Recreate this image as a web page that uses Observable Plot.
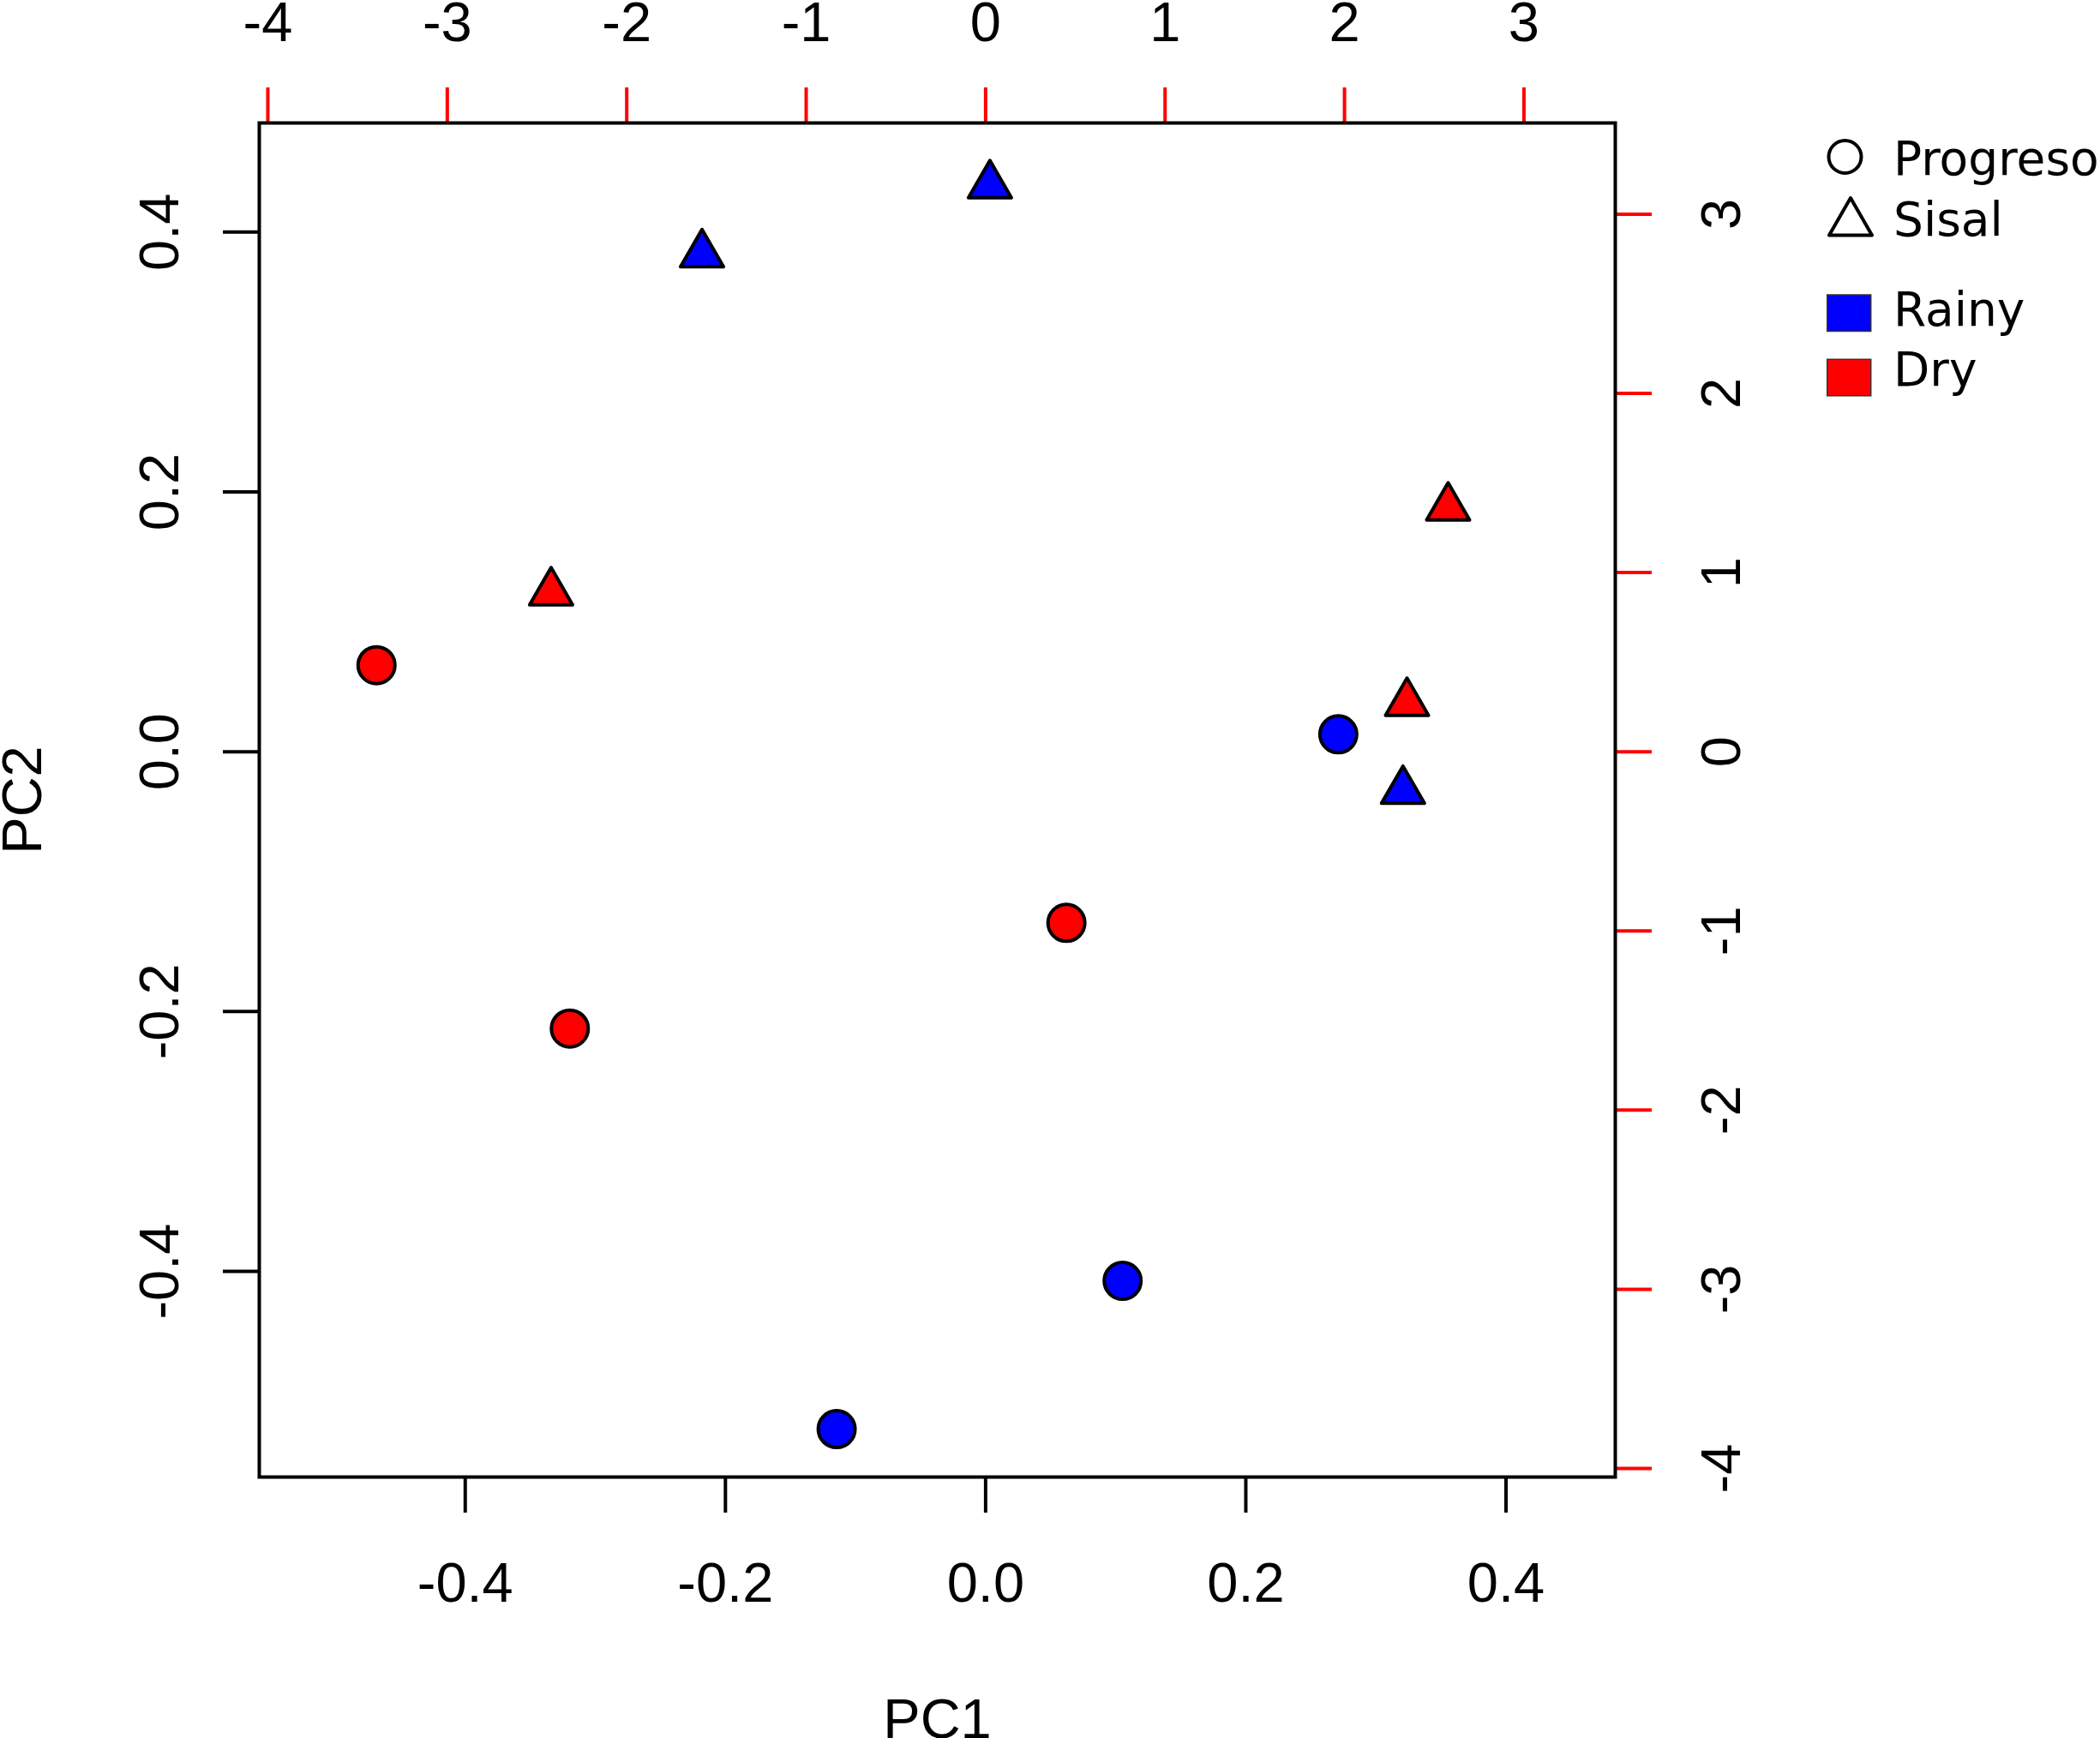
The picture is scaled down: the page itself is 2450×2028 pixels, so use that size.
<!DOCTYPE html>
<html><head><meta charset="utf-8">
<script src="https://cdn.jsdelivr.net/npm/d3@7"></script>
<script src="https://cdn.jsdelivr.net/npm/@observablehq/plot@0.6"></script>
<style>
html,body{margin:0;padding:0;background:#fff;}
#wrap{position:relative;width:2450px;height:2028px;overflow:hidden;background:#fff;}
#legend{position:absolute;left:2120px;top:140px;overflow:hidden;}
</style></head><body><div id="wrap"></div>
<script>
// ---- data ----
const sampleSite   = ["Sisal","Sisal","Sisal","Sisal","Progreso","Sisal","Progreso","Sisal","Progreso","Progreso","Progreso","Progreso"];
const sampleSeason = ["Rainy","Rainy","Dry","Dry","Dry","Dry","Rainy","Rainy","Dry","Dry","Rainy","Rainy"];
const pc1 = [0.0033, -0.2180, 0.3555, -0.3340, -0.4682, 0.3239, 0.2711, 0.3208, 0.0621, -0.3196, 0.1053, -0.1145];
const pc2 = [0.4360, 0.3829, 0.1880, 0.1227, 0.0666, 0.0376, 0.0134, -0.0301, -0.1317, -0.2131, -0.4073, -0.5214];
const pcTicks = [-0.4, -0.2, 0, 0.2, 0.4];
const loadingTicks = [-4, -3, -2, -1, 0, 1, 2, 3];
const siteNames = ["Progreso", "Sisal"];
const siteSymbols = ["circle", "triangle"];
const seasonNames = ["Rainy", "Dry"];
const seasonColors = ["#0000ff", "#ff0000"];
const loadingRatio = 7.25;          // secondary (top/right) axis units per PC unit
const axisLimits = [-0.5583, 0.4840];
const xLabel = "PC1", yLabel = "PC2";

const data = pc1.map((x, i) => ({pc1: x, pc2: pc2[i], site: sampleSite[i], season: sampleSeason[i]}));
const loadingPos = loadingTicks.map(t => t / loadingRatio);
const fmtPC = d => d.toFixed(1);
const FS = 65;

const plot = Plot.plot({
  width: 2450, height: 2028,
  marginLeft: 302, marginRight: 566, marginTop: 143, marginBottom: 305,
  style: {fontFamily: "'Liberation Sans', Arial, sans-serif", background: "white", overflow: "visible"},
  x: {domain: axisLimits, axis: null},
  y: {domain: axisLimits, axis: null},
  color: {domain: seasonNames, range: seasonColors},
  symbol: {domain: siteNames, range: siteSymbols},
  marks: [
    // ticks
    Plot.axisX(pcTicks, {anchor: "bottom", tickSize: 42, stroke: "black", strokeWidth: 4, fill: "none", label: null}),
    Plot.axisY(pcTicks, {anchor: "left", tickSize: 42, stroke: "black", strokeWidth: 4, fill: "none", label: null}),
    Plot.axisX(loadingPos, {anchor: "top", tickSize: 42, stroke: "red", strokeWidth: 4, fill: "none", label: null}),
    Plot.axisY(loadingPos, {anchor: "right", tickSize: 42, stroke: "red", strokeWidth: 4, fill: "none", label: null}),
    // tick labels
    Plot.text(pcTicks, {x: d => d, text: fmtPC, frameAnchor: "bottom", dy: 145, lineAnchor: "bottom", fontSize: FS, fill: "black"}),
    Plot.text(pcTicks, {y: d => d, text: fmtPC, frameAnchor: "left", dx: -95, rotate: -90, lineAnchor: "bottom", textAnchor: "middle", fontSize: FS, fill: "black"}),
    Plot.text(loadingTicks, {x: d => d / loadingRatio, text: d => String(d), frameAnchor: "top", dy: -96, lineAnchor: "bottom", fontSize: FS, fill: "black"}),
    Plot.text(loadingTicks, {y: d => d / loadingRatio, text: d => String(d), frameAnchor: "right", dx: 145, rotate: -90, lineAnchor: "bottom", textAnchor: "middle", fontSize: FS, fill: "black"}),
    // axis titles
    Plot.text([xLabel], {text: d => d, frameAnchor: "bottom", dy: 304, lineAnchor: "bottom", fontSize: FS, fill: "black"}),
    Plot.text([yLabel], {text: d => d, frameAnchor: "left", dx: -255, rotate: -90, lineAnchor: "bottom", textAnchor: "middle", fontSize: FS, fill: "black"}),
    // points
    Plot.dot(data, {filter: d => d.site === siteNames[0], x: "pc1", y: "pc2", symbol: "site", fill: "season", r: 21.5, stroke: "black", strokeWidth: 4}),
    Plot.dot(data, {filter: d => d.site === siteNames[1], x: "pc1", y: "pc2", symbol: "site", fill: "season", r: 18.6, stroke: "black", strokeWidth: 4, strokeLinejoin: "round"}),
    Plot.frame({stroke: "black", strokeWidth: 4})
  ]
});
const wrap = document.getElementById("wrap");
wrap.appendChild(plot);

// ---- legend ----
const lg = d3.select(wrap).append("svg").attr("id", "legend")
  .attr("width", 330).attr("height", 340)
  .style("font-family", "'DejaVu Sans', sans-serif").style("font-size", "55px");
// site symbols
lg.append("circle").attr("cx", 32.5).attr("cy", 43).attr("r", 19)
  .attr("fill", "none").attr("stroke", "black").attr("stroke-width", 4);
lg.append("path").attr("d", "M39,91.1L64,134.4L14,134.4Z")
  .attr("fill", "none").attr("stroke", "black").attr("stroke-width", 4).attr("stroke-linejoin", "round");
const siteY = [64, 135];
siteNames.forEach((s, i) => lg.append("text").attr("x", 89).attr("y", siteY[i]).attr("fill", "black").text(s));
// season swatches
const seasonY = [204, 279.3];
const seasonTextY = [240, 310];
seasonNames.forEach((s, i) => {
  lg.append("rect").attr("x", 11.7).attr("y", seasonY[i]).attr("width", 51).attr("height", 42.5)
    .attr("fill", seasonColors[i]).attr("stroke", "#333").attr("stroke-width", 1.5);
  lg.append("text").attr("x", 89).attr("y", seasonTextY[i]).attr("fill", "black").text(s);
});
</script></body></html>
